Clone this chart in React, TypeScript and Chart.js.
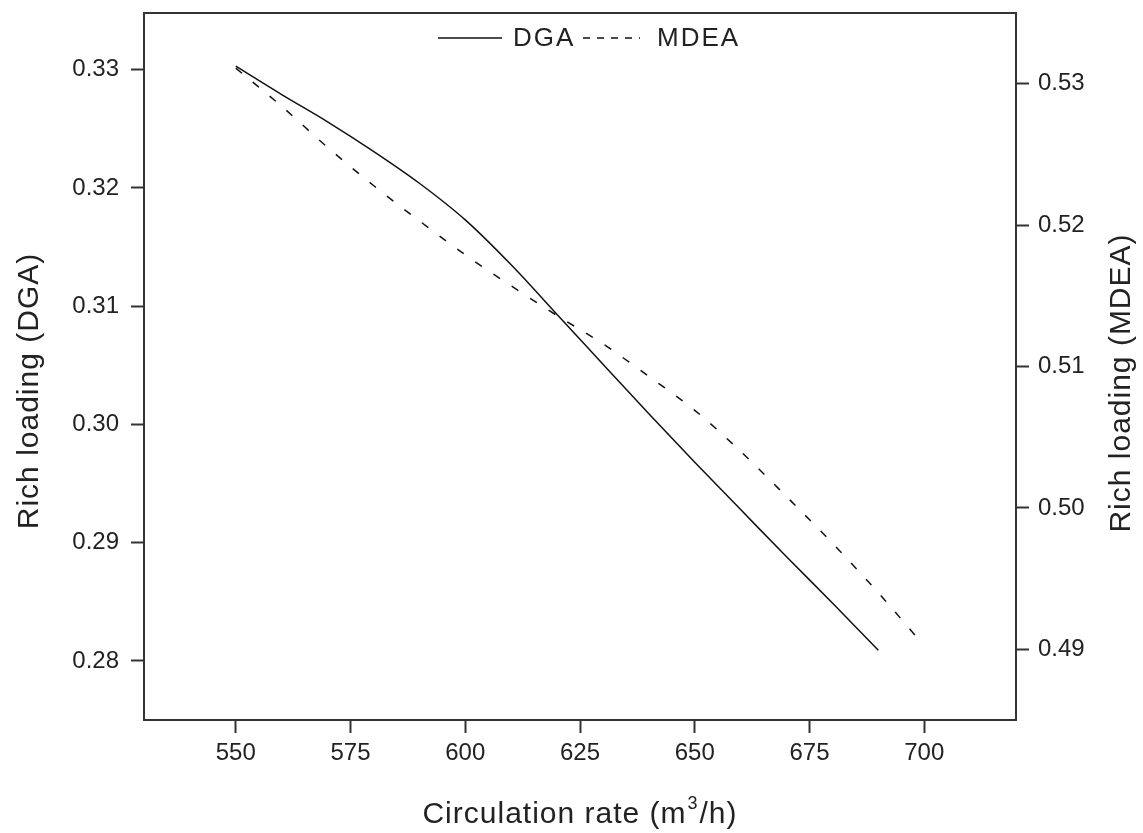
import React, { useEffect, useRef } from "react";
import { Chart, registerables } from "chart.js";

Chart.register(...registerables);

const dgaX = [550, 560, 570, 580, 590, 600, 610, 620, 630, 640, 650, 660, 670, 680, 690];
const dgaY = [0.3303, 0.3279, 0.3256, 0.3231, 0.3204, 0.3173, 0.3135, 0.3093, 0.3051, 0.3009, 0.2968, 0.2928, 0.2888, 0.2849, 0.2809];
const mdeaX = [550, 560, 570, 580, 590, 600, 610, 620, 630, 640, 650, 660, 670, 680, 690, 698];
const mdeaY = [0.5311, 0.5284, 0.5255, 0.5228, 0.5203, 0.5179, 0.5157, 0.5136, 0.5116, 0.5093, 0.5069, 0.504, 0.5008, 0.4975, 0.494, 0.491];

const xTicks = [550, 575, 600, 625, 650, 675, 700];
const leftTicks = [0.28, 0.29, 0.3, 0.31, 0.32, 0.33];
const rightTicks = [0.49, 0.5, 0.51, 0.52, 0.53];

const seriesNames = ["DGA", "MDEA"];
const xTitle = ["Circulation rate (m", "3", "/h)"];
const leftTitle = "Rich loading (DGA)";
const rightTitle = "Rich loading (MDEA)";

const FONT = "'Liberation Sans', Arial, sans-serif";
const INK = "#222";
const FRAME = "#333";

const decorPlugin = {
  id: "decor",
  afterDraw(chart: any) {
    const ctx = chart.ctx as CanvasRenderingContext2D;
    const ca = chart.chartArea;
    ctx.save();
    // frame
    ctx.strokeStyle = FRAME;
    ctx.lineWidth = 2;
    ctx.setLineDash([]);
    ctx.strokeRect(ca.left, ca.top, ca.right - ca.left, ca.bottom - ca.top);

    // legend
    ctx.strokeStyle = "#111";
    ctx.lineWidth = 1.5;
    ctx.beginPath();
    ctx.moveTo(438, 38);
    ctx.lineTo(502, 38);
    ctx.stroke();
    ctx.setLineDash([7, 7]);
    ctx.beginPath();
    ctx.moveTo(583, 38);
    ctx.lineTo(640, 38);
    ctx.stroke();
    ctx.setLineDash([]);
    ctx.fillStyle = INK;
    ctx.font = `26px ${FONT}`;
    (ctx as any).letterSpacing = "2px";
    ctx.textBaseline = "alphabetic";
    ctx.textAlign = "left";
    ctx.fillText(seriesNames[0], 513, 46);
    ctx.fillText(seriesNames[1], 657, 46);

    // x title
    (ctx as any).letterSpacing = "1px";
    ctx.font = `30px ${FONT}`;
    const w1 = ctx.measureText(xTitle[0]).width;
    ctx.font = `18px ${FONT}`;
    const w2 = ctx.measureText(xTitle[1]).width;
    ctx.font = `30px ${FONT}`;
    const w3 = ctx.measureText(xTitle[2]).width;
    const total = w1 + w2 + 2 + w3;
    let sx = 580 - total / 2;
    const base = 823;
    ctx.fillText(xTitle[0], sx, base);
    sx += w1 + 1;
    ctx.font = `18px ${FONT}`;
    ctx.fillText(xTitle[1], sx, base - 14);
    sx += w2 + 1;
    ctx.font = `30px ${FONT}`;
    ctx.fillText(xTitle[2], sx, base);

    // y titles
    ctx.textAlign = "center";
    ctx.textBaseline = "middle";
    ctx.save();
    ctx.translate(30, 391);
    ctx.rotate(-Math.PI / 2);
    ctx.fillText(leftTitle, 0, 0);
    ctx.restore();
    ctx.save();
    ctx.translate(1122, 383);
    ctx.rotate(-Math.PI / 2);
    ctx.fillText(rightTitle, 0, 0);
    ctx.restore();
    ctx.restore();
  },
};

const zeroPad = (s: any) => {
  s.paddingTop = 0;
  s.paddingBottom = 0;
  s.paddingLeft = 0;
  s.paddingRight = 0;
};

export default function App() {
  const ref = useRef<HTMLCanvasElement | null>(null);
  useEffect(() => {
    if (!ref.current) return;
    const tickFont = { size: 24, family: FONT };
    const gridCommon = {
      display: true,
      drawOnChartArea: false,
      drawTicks: true,
      tickLength: 13,
      tickWidth: 2,
      tickColor: FRAME,
      color: FRAME,
    };
    const chart = new Chart(ref.current, {
      type: "line",
      data: {
        datasets: [
          {
            label: seriesNames[0],
            data: dgaX.map((x, i) => ({ x, y: dgaY[i] })),
            borderColor: "#111",
            borderWidth: 1.5,
            pointRadius: 0,
            cubicInterpolationMode: "monotone",
            yAxisID: "y",
            fill: false,
          },
          {
            label: seriesNames[1],
            data: mdeaX.map((x, i) => ({ x, y: mdeaY[i] })),
            borderColor: "#111",
            borderWidth: 1.5,
            borderDash: [8, 14],
            pointRadius: 0,
            cubicInterpolationMode: "monotone",
            yAxisID: "y1",
            fill: false,
          },
        ],
      },
      options: {
        responsive: false,
        animation: false,
        layout: { padding: { top: 13, left: 0, right: 0, bottom: 0 } },
        plugins: { legend: { display: false }, tooltip: { enabled: false } },
        scales: {
          x: {
            type: "linear",
            min: 530,
            max: 720,
            grid: gridCommon,
            border: { display: false },
            afterBuildTicks: (s: any) => {
              s.ticks = xTicks.map((v) => ({ value: v }));
            },
            afterFit: (s: any) => {
              s.height = 113;
              zeroPad(s);
            },
            ticks: {
              font: tickFont,
              color: INK,
              padding: 6,
              maxRotation: 0,
              autoSkip: false,
              callback: (v: any) => String(v),
            },
          },
          y: {
            type: "linear",
            position: "left",
            min: 0.275,
            max: 0.3348,
            grid: gridCommon,
            border: { display: false },
            afterBuildTicks: (s: any) => {
              s.ticks = leftTicks.map((v) => ({ value: v }));
            },
            afterFit: (s: any) => {
              s.width = 144;
              zeroPad(s);
            },
            ticks: {
              font: tickFont,
              color: INK,
              padding: 12,
              autoSkip: false,
              callback: (v: any) => Number(v).toFixed(2),
            },
          },
          y1: {
            type: "linear",
            position: "right",
            min: 0.485,
            max: 0.535,
            grid: gridCommon,
            border: { display: false },
            afterBuildTicks: (s: any) => {
              s.ticks = rightTicks.map((v) => ({ value: v }));
            },
            afterFit: (s: any) => {
              s.width = 127;
              zeroPad(s);
            },
            ticks: {
              font: tickFont,
              color: INK,
              padding: 9,
              autoSkip: false,
              callback: (v: any) => Number(v).toFixed(2),
            },
          },
        },
      },
      plugins: [decorPlugin],
    } as any);
    return () => chart.destroy();
  }, []);
  return (
    <div style={{ position: "fixed", left: 0, top: 0, width: 1143, height: 833, background: "#fff" }}>
      <canvas ref={ref} width={1143} height={833} />
    </div>
  );
}
